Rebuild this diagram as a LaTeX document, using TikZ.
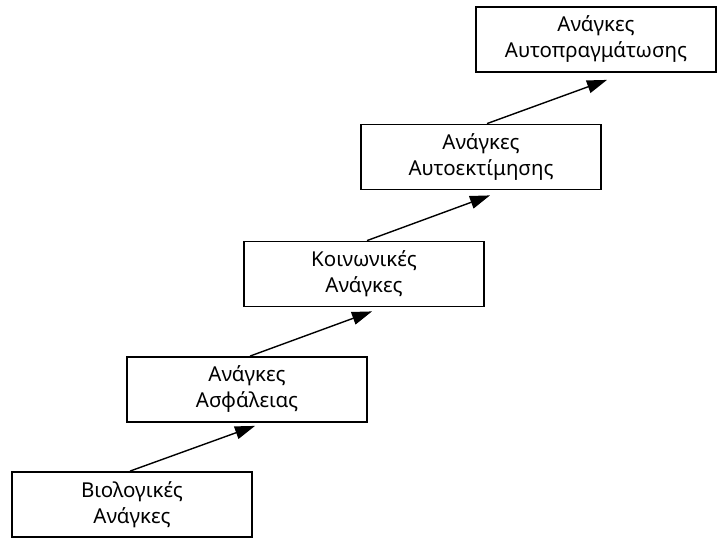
\documentclass[tikz,border=0pt]{standalone}
\usepackage{fontspec}
\setmainfont{Noto Sans}
\usetikzlibrary{arrows.meta}
\begin{document}
\begin{tikzpicture}[x=1pt,y=1pt,
  needbox/.style={draw=black, line width=1.8pt, minimum width=240pt, minimum height=65pt,
    inner sep=0pt, align=center, font=\fontsize{20.5}{26}\selectfont},
  uparrow/.style={line width=1.4pt, -{Triangle[length=20pt,width=13pt]}}]
\useasboundingbox (0,0) rectangle (720,539);
\node[needbox] (b1) at (132,34.5) {Βιολογικές\\Ανάγκες};
\node[needbox] (b2) at (247,149.5) {Ανάγκες\\Ασφάλειας};
\node[needbox] (b3) at (364,265) {Κοινωνικές\\Ανάγκες};
\node[needbox] (b4) at (481,382) {Ανάγκες\\Αυτοεκτίμησης};
\node[needbox] (b5) at (596,499.5) {Ανάγκες\\Αυτοπραγμάτωσης};
\draw[uparrow] ([xshift=-2pt]b1.north) -- ([xshift=8pt,yshift=-3pt]b2.south);
\draw[uparrow] ([xshift=3pt]b2.north) -- ([xshift=8pt,yshift=-4pt]b3.south);
\draw[uparrow] ([xshift=3pt]b3.north) -- ([xshift=9pt,yshift=-5pt]b4.south);
\draw[uparrow] ([xshift=6pt]b4.north) -- ([xshift=11pt,yshift=-7pt]b5.south);
\end{tikzpicture}
\end{document}
